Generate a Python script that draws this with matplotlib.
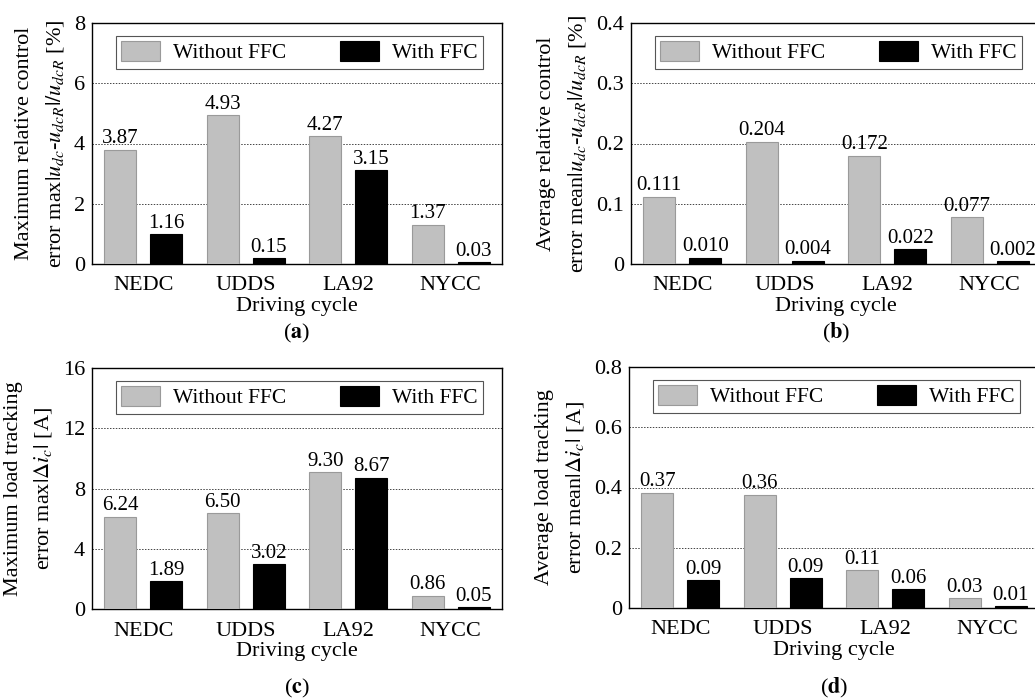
import numpy as np
import matplotlib.pyplot as plt

plt.rcParams['font.family'] = ['Liberation Serif', 'DejaVu Serif']
plt.rcParams['mathtext.fontset'] = 'stix'

cycles = ['NEDC', 'UDDS', 'LA92', 'NYCC']

# panel (a) maximum relative control error [%]
a_without = [3.80, 4.94, 4.24, 1.31]
a_with = [0.99, 0.19, 3.11, 0.06]
a_lab_without = ['3.87', '4.93', '4.27', '1.37']
a_lab_with = ['1.16', '0.15', '3.15', '0.03']

# panel (b) average relative control error [%]
b_without = [0.112, 0.203, 0.180, 0.0776]
b_with = [0.0105, 0.0055, 0.025, 0.005]
b_lab_without = ['0.111', '0.204', '0.172', '0.077']
b_lab_with = ['0.010', '0.004', '0.022', '0.002']

# panel (c) maximum load tracking error [A]
c_without = [6.14, 6.36, 9.09, 0.88]
c_with = [1.86, 2.99, 8.73, 0.11]
c_lab_without = ['6.24', '6.50', '9.30', '0.86']
c_lab_with = ['1.89', '3.02', '8.67', '0.05']

# panel (d) average load tracking error [A]
d_without = [0.383, 0.376, 0.126, 0.033]
d_with = [0.093, 0.099, 0.063, 0.0055]
d_lab_without = ['0.37', '0.36', '0.11', '0.03']
d_lab_with = ['0.09', '0.09', '0.06', '0.01']

fig = plt.figure(figsize=(10.35, 7), dpi=100)

W = 410 / 1035
H = 241 / 700
panels = [
    ([92 / 1035, 436 / 700, W, H], a_without, a_with, a_lab_without, a_lab_with,
     [0, 2, 4, 6, 8], ['0', '2', '4', '6', '8'],
     'Maximum relative control\nerror max$|u_{dc}$-$u_{dcR}|/u_{dcR}$ [%]', 'a', -0.287),
    ([631 / 1035, 436 / 700, W, H], b_without, b_with, b_lab_without, b_lab_with,
     [0, 0.1, 0.2, 0.3, 0.4], ['0', '0.1', '0.2', '0.3', '0.4'],
     'Average relative control\nerror mean$|u_{dc}$-$u_{dcR}|/u_{dcR}$ [%]', 'b', -0.287),
    ([92 / 1035, 91 / 700, W, H], c_without, c_with, c_lab_without, c_lab_with,
     [0, 4, 8, 12, 16], ['0', '4', '8', '12', '16'],
     'Maximum load tracking\nerror max$|\\Delta i_c|$ [A]', 'c', -0.33),
    ([629 / 1035, 92 / 700, W, H], d_without, d_with, d_lab_without, d_lab_with,
     [0, 0.2, 0.4, 0.6, 0.8], ['0', '0.2', '0.4', '0.6', '0.8'],
     'Average load tracking\nerror mean$|\\Delta i_c|$ [A]', 'd', -0.33),
]

x = np.arange(len(cycles))
bw = 0.31
off = 0.225
fs = 16
fs_val = 15
fs_leg = 15.5

for rect, wo, wi, lwo, lwi, ticks, ticklabels, ylab, letter, ly in panels:
    ax = fig.add_axes(rect)
    b1 = ax.bar(x - off, wo, bw, color='#c0c0c0', edgecolor='#9a9a9a', linewidth=0.8,
                label='Without FFC', zorder=3)
    b2 = ax.bar(x + off, wi, bw, color='black', edgecolor='black', linewidth=0.8,
                label='With FFC', zorder=3)
    ax.bar_label(b1, labels=lwo, padding=1, fontsize=fs_val)
    ax.bar_label(b2, labels=lwi, padding=1, fontsize=fs_val)
    ax.set_xlim(-0.5, 3.5)
    ax.set_ylim(ticks[0], ticks[-1])
    ax.set_yticks(ticks)
    ax.set_yticklabels(ticklabels)
    ax.set_xticks(x)
    ax.set_xticklabels(cycles)
    ax.tick_params(axis='y', length=0, labelsize=fs, pad=5)
    ax.tick_params(axis='x', length=0, labelsize=fs, pad=9)
    ax.yaxis.grid(True, linestyle=(0, (1.5, 1.5)), color='#444444', linewidth=0.7, zorder=0)
    ax.set_axisbelow(True)
    for s in ax.spines.values():
        s.set_linewidth(1.0)
    ax.set_xlabel('Driving cycle', fontsize=fs, labelpad=1)
    ax.set_ylabel(ylab, fontsize=fs, labelpad=6, linespacing=1.6)
    leg = ax.legend(loc='lower left', bbox_to_anchor=(0.058, 0.81, 0.896, 0.133),
                    mode='expand', ncol=2, fontsize=fs_leg, fancybox=False,
                    edgecolor='#555555', framealpha=1, handlelength=1.8,
                    handleheight=1.0, handletextpad=0.6, borderpad=0.25,
                    borderaxespad=0)
    leg.get_frame().set_linewidth(0.8)
    ax.text(0.5, ly, '($\\mathbf{' + letter + '}$)', transform=ax.transAxes,
            ha='center', va='center', fontsize=fs)

fig.savefig('out.png', dpi=100)
